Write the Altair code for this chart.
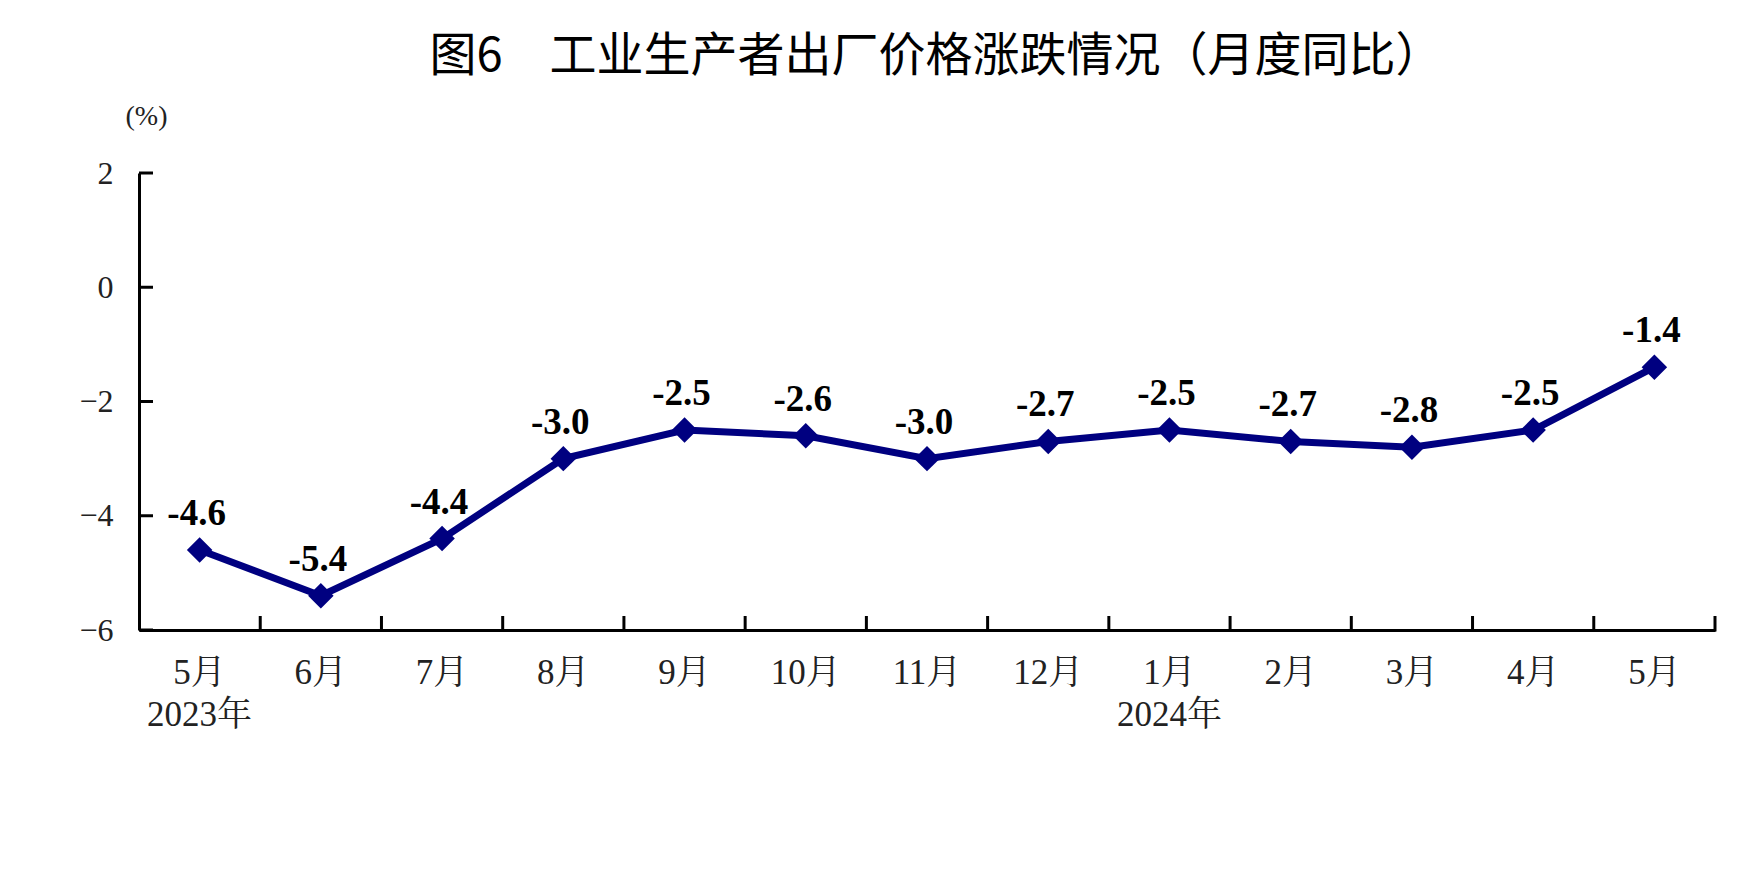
import json
import altair as alt
import pandas as pd

# ---- data ----
months = ["5月", "6月", "7月", "8月", "9月", "10月", "11月", "12月",
          "1月", "2月", "3月", "4月", "5月"]
years = ["2023年", "", "", "", "", "", "", "", "2024年", "", "", "", ""]
values = [-4.6, -5.4, -4.4, -3.0, -2.5, -2.6, -3.0, -2.7, -2.5, -2.7, -2.8, -2.5, -1.4]
y_ticks = [2, 0, -2, -4, -6]

title_text = "图6　工业生产者出厂价格涨跌情况（月度同比）"

idx = list(range(len(months)))
df = pd.DataFrame({"idx": idx, "value": values})
tick_df = pd.DataFrame({"t": y_ticks})
xtick_df = pd.DataFrame({"idx": idx[1:]})

label_arr = [[m, y] if y else m for m, y in zip(months, years)]
label_expr = json.dumps(label_arr, ensure_ascii=False) + "[datum.value]"

W, H = 1576, 457
NAVY = "#000080"
SERIF = "Liberation Serif, Noto Serif CJK SC, Noto Sans CJK SC, serif"

x_scale = alt.Scale(type="band", domain=idx, paddingInner=0, paddingOuter=0)
y_scale = alt.Scale(domain=[-6, 2], nice=False, zero=False)

x_enc = alt.X(
    "idx:O", scale=x_scale,
    axis=alt.Axis(
        title=None, labelAngle=0, ticks=False, domain=True,
        domainColor="black", domainWidth=3,
        labelExpr=label_expr, labelFont=SERIF, labelFontSize=35,
        labelColor="#222222", labelPadding=25, labelLineHeight=42,
        labelBaseline="top",
    ),
)
y_enc = alt.Y(
    "value:Q", scale=y_scale,
    axis=alt.Axis(
        values=y_ticks, ticks=False, grid=False, domain=True,
        domainColor="black", domainWidth=3,
        labelFont=SERIF, labelFontSize=32, labelColor="#222222",
        labelPadding=26, format="d",
        title="(%)", titleAngle=0, titleFont=SERIF, titleFontSize=28,
        titleFontWeight="normal", titleColor="#222222",
        titleAlign="center", titleBaseline="middle",
        titleX=7, titleY=-57,
    ),
)

base = alt.Chart(df)

line = base.mark_line(color=NAVY, strokeWidth=7).encode(x=x_enc, y=y_enc)
points = base.mark_point(shape="diamond", filled=True, size=650,
                         color=NAVY, opacity=1).encode(x="idx:O", y="value:Q")
labels = base.transform_calculate(
    lab="replace(format(datum.value, '.1f'), '\u2212', '-')"
).mark_text(
    font="Liberation Serif", fontSize=37, fontWeight="bold", color="black",
    dy=-36, dx=-3, baseline="middle", align="center",
).encode(x="idx:O", y="value:Q", text="lab:N")

ytick_rules = alt.Chart(tick_df).mark_rule(color="black", strokeWidth=3).encode(
    y=alt.Y("t:Q"), x=alt.value(0), x2=alt.value(14)
)
xtick_rules = alt.Chart(xtick_df).mark_rule(color="black", strokeWidth=3).encode(
    x=alt.X("idx:O", bandPosition=0), y=alt.value(H), y2=alt.value(H - 14)
)
end_tick = alt.Chart(xtick_df.head(1)).mark_rule(color="black", strokeWidth=3).encode(
    x=alt.value(W), y=alt.value(H + 1.5), y2=alt.value(H - 14)
)

chart = alt.layer(line, points, labels, ytick_rules, xtick_rules, end_tick).properties(
    width=W, height=H,
    title=alt.TitleParams(
        text=title_text, font="Noto Sans CJK SC", fontSize=47,
        fontWeight="normal", color="black", anchor="middle",
        frame="group", offset=21, dx=9,
    ),
    autosize=alt.AutoSizeParams(type="none"),
    padding={"left": 131, "top": 165, "right": 20, "bottom": 230},
).configure(background="white").configure_view(stroke="transparent", strokeWidth=0)

chart.save("out.html", embed_options={"renderer": "svg", "actions": False})
